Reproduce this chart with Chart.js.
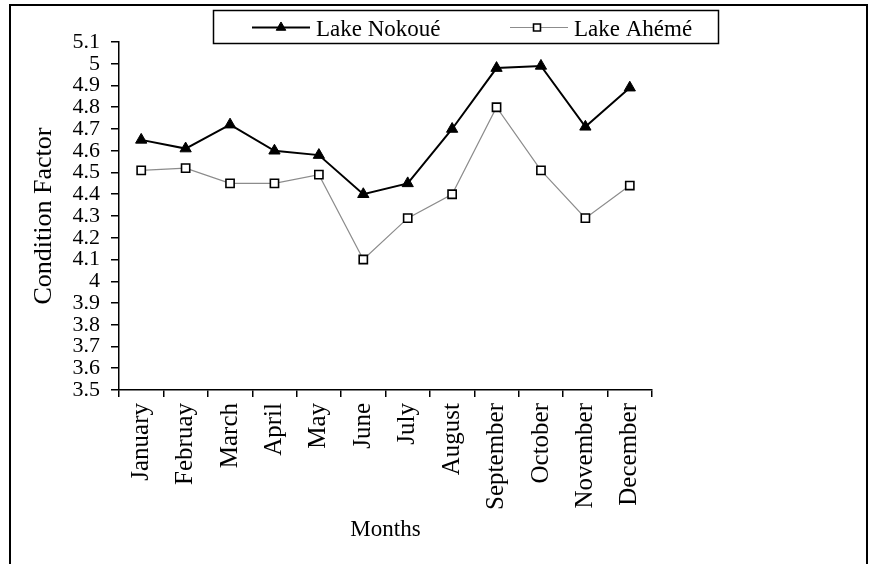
<!DOCTYPE html>
<html>
<head>
<meta charset="utf-8">
<script src="https://cdn.jsdelivr.net/npm/chart.js@4.4.0/dist/chart.umd.min.js"></script>
<style>
  html, body { margin: 0; padding: 0; background: #fff; }
  #wrap { position: relative; width: 869px; height: 564px; overflow: hidden; background: #fff; }
  #frame { position: absolute; left: 9px; top: 4px; width: 855px; height: 620px; border: 2px solid #000; box-sizing: content-box; pointer-events: none; }
  canvas { position: absolute; left: 0; top: 0; }
</style>
</head>
<body>
<div id="wrap">
  <canvas id="c" width="869" height="564"></canvas>
  <div id="frame"></div>
</div>
<script>
const months = ["January", "Februay", "March", "April", "May", "June", "July", "August", "September", "October", "November", "December"];
const lakeNokoue = [4.65, 4.61, 4.72, 4.60, 4.58, 4.40, 4.45, 4.70, 4.98, 4.99, 4.71, 4.89];
const lakeAheme = [4.51, 4.52, 4.45, 4.45, 4.49, 4.10, 4.29, 4.40, 4.80, 4.51, 4.29, 4.44];
const yTickValues = [3.5, 3.6, 3.7, 3.8, 3.9, 4.0, 4.1, 4.2, 4.3, 4.4, 4.5, 4.6, 4.7, 4.8, 4.9, 5.0, 5.1];
const seriesNames = ["Lake Nokoué", "Lake Ahémé"];

const FONT = "'Liberation Serif', 'Times New Roman', serif";

const legendPlugin = {
  id: 'boxLegend',
  afterDraw(chart) {
    const ctx = chart.ctx;
    ctx.save();
    ctx.strokeStyle = '#000';
    ctx.lineWidth = 1.5;
    ctx.strokeRect(213.5, 10.5, 505, 33);
    const items = [
      { x0: 252, x1: 310, mx: 281, tx: 316, ds: chart.data.datasets[0] },
      { x0: 510, x1: 568, mx: 537, tx: 574, ds: chart.data.datasets[1] }
    ];
    const y = 27.5;
    items.forEach(it => {
      ctx.strokeStyle = it.ds.borderColor;
      ctx.lineWidth = it.ds.borderWidth;
      ctx.beginPath();
      ctx.moveTo(it.x0, y);
      ctx.lineTo(it.x1, y);
      ctx.stroke();
      ctx.fillStyle = it.ds.pointBackgroundColor;
      ctx.strokeStyle = it.ds.pointBorderColor;
      ctx.lineWidth = it.ds.pointBorderWidth;
      Chart.helpers.drawPoint(ctx, {
        pointStyle: it.ds.pointStyle,
        radius: it.ds.pointRadius * 0.85,
        borderWidth: it.ds.pointBorderWidth,
        rotation: 0
      }, it.mx, y);
      ctx.fillStyle = '#000';
      ctx.font = "23px " + FONT;
      ctx.textBaseline = 'alphabetic';
      ctx.textAlign = 'left';
      ctx.fillText(it.ds.label, it.tx, 36);
    });
    ctx.restore();
  }
};

new Chart(document.getElementById('c'), {
  type: 'line',
  data: {
    labels: months,
    datasets: [
      {
        label: seriesNames[0],
        data: lakeNokoue,
        borderColor: '#000',
        borderWidth: 2,
        pointStyle: 'triangle',
        pointRadius: 6.5,
        pointBackgroundColor: '#000',
        pointBorderColor: '#000',
        pointBorderWidth: 1,
        tension: 0,
        order: 1
      },
      {
        label: seriesNames[1],
        data: lakeAheme,
        borderColor: '#8c8c8c',
        borderWidth: 1.2,
        pointStyle: 'rect',
        pointRadius: 5.8,
        pointBackgroundColor: '#fff',
        pointBorderColor: '#000',
        pointBorderWidth: 1.6,
        tension: 0,
        order: 2
      }
    ]
  },
  options: {
    responsive: false,
    animation: false,
    devicePixelRatio: 1,
    layout: { padding: { left: 10, top: 42, right: 217, bottom: 0 } },
    plugins: {
      legend: { display: false },
      tooltip: { enabled: false }
    },
    scales: {
      x: {
        type: 'category',
        offset: true,
        border: { display: true, color: '#000', width: 1.5 },
        grid: { offset: true, drawOnChartArea: false, drawTicks: true, tickLength: 7, color: '#000', lineWidth: 1.5 },
        ticks: {
          color: '#000',
          font: { family: FONT, size: 25 },
          maxRotation: 90,
          minRotation: 90,
          padding: 6,
          autoSkip: false
        },
        title: {
          display: true,
          text: 'Months',
          color: '#000',
          font: { family: FONT, size: 23 },
          padding: { top: 0, bottom: 20 }
        },
        afterFit(scale) { scale.height = 174; }
      },
      y: {
        min: 3.5,
        max: 5.1,
        border: { display: true, color: '#000', width: 1.5 },
        grid: { drawOnChartArea: false, drawTicks: true, tickLength: 8, color: '#000', lineWidth: 1.5 },
        afterBuildTicks(scale) { scale.ticks = yTickValues.map(v => ({ value: v })); },
        ticks: {
          color: '#000',
          font: { family: FONT, size: 22 },
          padding: 11,
          autoSkip: false,
          callback: (v) => String(Number(v.toFixed(1)))
        },
        title: {
          display: true,
          text: 'Condition Factor',
          color: '#000',
          font: { family: FONT, size: 26 },
          padding: { top: 19, bottom: 0 }
        },
        afterFit(scale) { scale.width = 109; }
      }
    }
  },
  plugins: [legendPlugin]
});
</script>
</body>
</html>
